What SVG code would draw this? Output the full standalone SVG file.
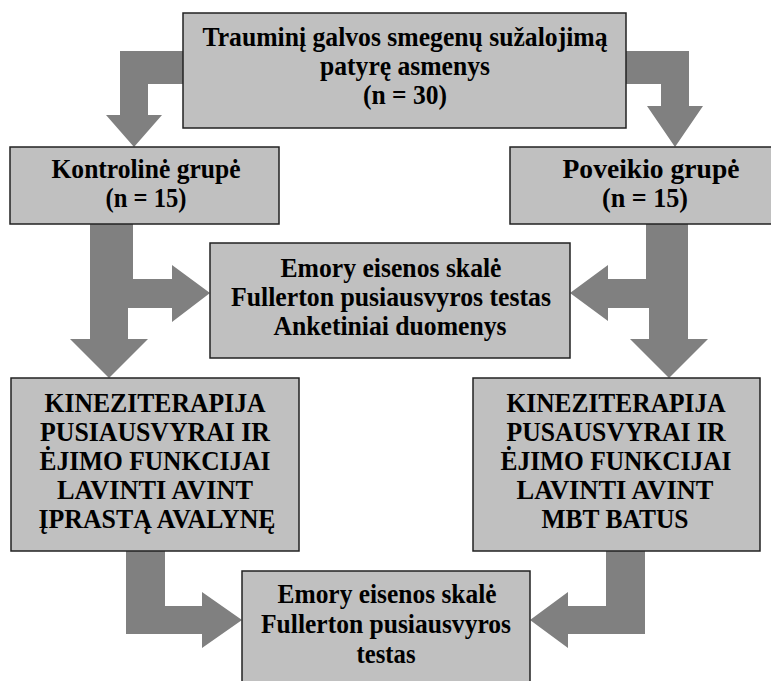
<svg xmlns="http://www.w3.org/2000/svg" width="771" height="681" viewBox="0 0 771 681">
<style>
.box{fill:#c0c0c0;stroke:#222;stroke-width:1.5}
.arr{fill:#808080;stroke:none}
text{font-family:"Liberation Serif","Times New Roman",serif;font-weight:bold;font-size:27px;fill:#000;text-anchor:middle}
</style>
<rect width="771" height="681" fill="#fff"/>
<g id="connectors">
<polygon class="arr" points="183,51 120,51 120,115 106,115 134,147 162,115 148,115 148,84 183,84"/>
<polygon class="arr" points="626,51 689,51 689,106 703,106 675,147 647,106 661,106 661,84 626,84"/>
<polygon class="arr" points="90,224 133,224 133,279 172,279 172,265 210,293 172,322 172,308 128,308 128,339 148,339 109,378 70,339 90,339"/>
<polygon class="arr" points="646,224 688,224 688,339 708,339 669,378 630,339 649,339 649,308 608,308 608,321 570,293 608,265 608,279 646,279"/>
<polygon class="arr" points="126,551 165,551 165,606 202,606 202,592 242,620 202,648 202,634 126,634"/>
<polygon class="arr" points="606,551 645,551 645,634 568,634 568,648 530,620 568,592 568,606 606,606"/>
</g>
<g id="top">
<rect class="box" x="183" y="13" width="443" height="115"/>
<text x="405" y="46" textLength="405" lengthAdjust="spacingAndGlyphs">Trauminį galvos smegenų sužalojimą</text>
<text x="405" y="75" textLength="170" lengthAdjust="spacingAndGlyphs">patyrę asmenys</text>
<text x="405" y="104" textLength="84" lengthAdjust="spacingAndGlyphs">(n = 30)</text>
</g>
<g id="control">
<rect class="box" x="10" y="147" width="269" height="77"/>
<text x="146" y="178" textLength="189" lengthAdjust="spacingAndGlyphs">Kontrolinė grupė</text>
<text x="146" y="207" textLength="81" lengthAdjust="spacingAndGlyphs">(n = 15)</text>
</g>
<g id="effect">
<rect class="box" x="510" y="147" width="290" height="77"/>
<text x="651" y="178" textLength="177" lengthAdjust="spacingAndGlyphs">Poveikio grupė</text>
<text x="645" y="207" textLength="86" lengthAdjust="spacingAndGlyphs">(n = 15)</text>
</g>
<g id="tests1">
<rect class="box" x="210" y="243" width="360" height="115"/>
<text x="391" y="277" textLength="221" lengthAdjust="spacingAndGlyphs">Emory eisenos skalė</text>
<text x="391" y="306" textLength="320" lengthAdjust="spacingAndGlyphs">Fullerton pusiausvyros testas</text>
<text x="390" y="335" textLength="233" lengthAdjust="spacingAndGlyphs">Anketiniai duomenys</text>
</g>
<g id="therapyControl">
<rect class="box" x="11" y="378" width="288" height="173"/>
<text x="155" y="412" textLength="221" lengthAdjust="spacingAndGlyphs">KINEZITERAPIJA</text>
<text x="155" y="441" textLength="230" lengthAdjust="spacingAndGlyphs">PUSIAUSVYRAI IR</text>
<text x="155" y="470" textLength="231" lengthAdjust="spacingAndGlyphs">ĖJIMO FUNKCIJAI</text>
<text x="155" y="499" textLength="196" lengthAdjust="spacingAndGlyphs">LAVINTI AVINT</text>
<text x="157" y="528" textLength="237" lengthAdjust="spacingAndGlyphs">ĮPRASTĄ AVALYNĘ</text>
</g>
<g id="therapyEffect">
<rect class="box" x="473" y="378" width="287" height="173"/>
<text x="616" y="412" textLength="219" lengthAdjust="spacingAndGlyphs">KINEZITERAPIJA</text>
<text x="616" y="441" textLength="219" lengthAdjust="spacingAndGlyphs">PUSAUSVYRAI IR</text>
<text x="616" y="470" textLength="231" lengthAdjust="spacingAndGlyphs">ĖJIMO FUNKCIJAI</text>
<text x="615" y="499" textLength="197" lengthAdjust="spacingAndGlyphs">LAVINTI AVINT</text>
<text x="615" y="528" textLength="147" lengthAdjust="spacingAndGlyphs">MBT BATUS</text>
</g>
<g id="tests2">
<rect class="box" x="242" y="571" width="288" height="130"/>
<text x="387" y="603" textLength="219" lengthAdjust="spacingAndGlyphs">Emory eisenos skalė</text>
<text x="386" y="633" textLength="250" lengthAdjust="spacingAndGlyphs">Fullerton pusiausvyros</text>
<text x="386" y="663" textLength="59" lengthAdjust="spacingAndGlyphs">testas</text>
</g>
</svg>
